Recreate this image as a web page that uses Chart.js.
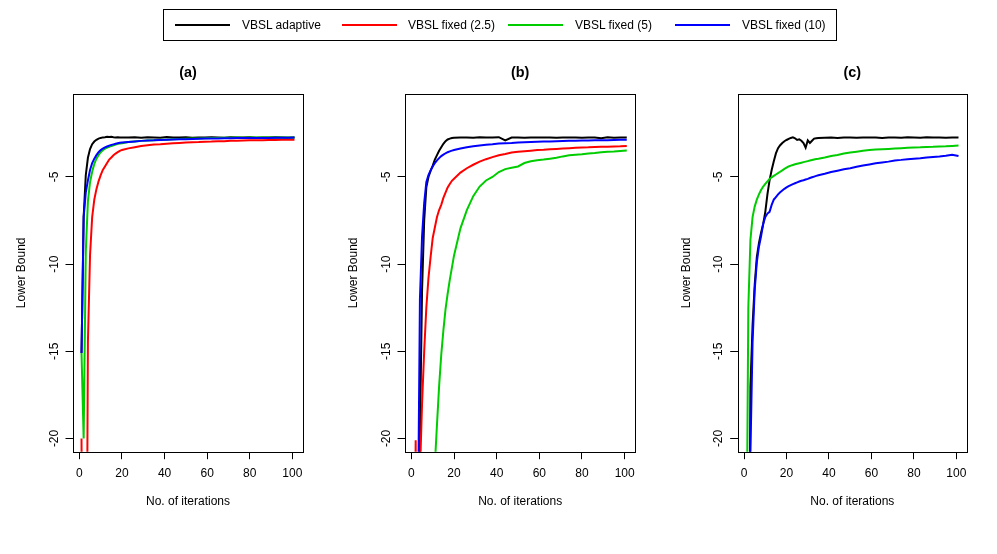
<!DOCTYPE html>
<html>
<head>
<meta charset="utf-8">
<script src="https://cdn.jsdelivr.net/npm/chart.js@4.4.0/dist/chart.umd.min.js"></script>
<style>
  html, body { margin:0; padding:0; background:#fff; }
  body { width:997px; height:554px; position:relative; overflow:hidden; font-family:"Liberation Sans", Arial, Helvetica, sans-serif; }
  canvas { position:absolute; top:0; }
  #legend { position:absolute; left:163px; top:9px; width:672px; height:30px; border:1px solid #000; z-index:5; background:transparent; }
  .sw { position:absolute; height:2px; }
  .lt { position:absolute; font-size:12px; line-height:14px; color:#000; white-space:nowrap; }
</style>
</head>
<body>
<div id="legend"></div>
<canvas id="ca" width="330" height="554" style="left:0px;width:330px;height:554px"></canvas>
<canvas id="cb" width="330" height="554" style="left:330px;width:330px;height:554px"></canvas>
<canvas id="cc" width="337" height="554" style="left:660px;width:337px;height:554px"></canvas>
<script>
// ---------------- data ----------------
const seriesNames = ['VBSL adaptive', 'VBSL fixed (2.5)', 'VBSL fixed (5)', 'VBSL fixed (10)'];
const seriesColors = ['#000000', '#FF0000', '#00CD00', '#0000FF'];
const panelTitles = ['(a)', '(b)', '(c)'];
const xTickValues = [0, 20, 40, 60, 80, 100];
const yTickValues = [-20, -15, -10, -5];
const xAxisTitle = 'No. of iterations';
const yAxisTitle = 'Lower Bound';

// iterations sampled (panels a and b)
const itersAB = [1,2,3,4,5,6,7,8,9,10,11,12,13,14,15,16,17,18,19,20,
  23,26,29,32,35,38,41,44,47,50,53,56,59,62,65,68,71,74,77,80,83,86,89,92,95,98,101];
// iterations sampled (panel c)
const itersC = [1,2,3,4,5,6,7,8,9,10,11,12,13,14,15,16,17,18,19,20,21,22,23,24,25,26,27,28,29,30,31,32,33,34,35,
  38,41,44,47,50,53,56,59,62,65,68,71,74,77,80,83,86,89,92,95,98,101];

// panel (a)
const aAdaptive = [-15.1,-7.3,-4.9,-3.9,-3.4,-3.12,-2.97,-2.87,-2.8,-2.76,-2.73,-2.72,-2.7,-2.71,-2.7,-2.72,-2.73,-2.72,-2.74,-2.73,
  -2.74,-2.72,-2.75,-2.72,-2.73,-2.75,-2.71,-2.74,-2.73,-2.72,-2.75,-2.73,-2.74,-2.72,-2.73,-2.75,-2.72,-2.74,-2.73,-2.72,-2.75,-2.73,-2.74,-2.72,-2.73,-2.75,-2.74];
const aFixed25 = [-20.0,-45,-40,-14.5,-9.5,-7.3,-6.3,-5.7,-5.25,-4.9,-4.6,-4.4,-4.2,-4.0,-3.88,-3.76,-3.66,-3.58,-3.5,-3.45,
  -3.36,-3.29,-3.22,-3.18,-3.14,-3.12,-3.09,-3.07,-3.05,-3.03,-3.01,-3.0,-2.98,-2.97,-2.95,-2.95,-2.93,-2.92,-2.91,-2.9,-2.9,-2.89,-2.88,-2.88,-2.87,-2.86,-2.86];
const aFixed5 = [-15.1,-20.0,-9.3,-6.4,-5.3,-4.7,-4.25,-3.95,-3.75,-3.58,-3.47,-3.38,-3.32,-3.27,-3.22,-3.18,-3.14,-3.1,-3.08,-3.06,
  -3.0,-2.96,-2.93,-2.91,-2.89,-2.87,-2.86,-2.84,-2.82,-2.81,-2.8,-2.79,-2.78,-2.77,-2.76,-2.75,-2.75,-2.74,-2.75,-2.74,-2.74,-2.73,-2.74,-2.73,-2.74,-2.73,-2.74];
const aFixed10 = [-15.1,-7.3,-5.9,-5.2,-4.6,-4.2,-3.95,-3.75,-3.58,-3.46,-3.37,-3.3,-3.25,-3.2,-3.16,-3.13,-3.1,-3.07,-3.04,-3.02,
  -2.99,-2.96,-2.93,-2.91,-2.9,-2.88,-2.86,-2.85,-2.84,-2.83,-2.82,-2.81,-2.8,-2.79,-2.79,-2.78,-2.78,-2.77,-2.77,-2.77,-2.76,-2.76,-2.76,-2.75,-2.75,-2.75,-2.74];

// panel (b)
const bAdaptive = [-45,-40,-30,-19.8,-11.5,-7.5,-5.6,-5.0,-4.65,-4.35,-4.0,-3.75,-3.5,-3.3,-3.1,-2.95,-2.85,-2.8,-2.77,-2.75,
  -2.74,-2.73,-2.75,-2.72,-2.74,-2.73,-2.72,-2.9,-2.74,-2.73,-2.75,-2.73,-2.74,-2.74,-2.73,-2.75,-2.74,-2.74,-2.73,-2.75,-2.74,-2.73,-2.78,-2.72,-2.75,-2.73,-2.74];
const bFixed25 = [-40,-20.1,-45,-22,-18,-15,-12.5,-10.8,-9.6,-8.5,-7.9,-7.3,-6.9,-6.6,-6.2,-5.9,-5.6,-5.4,-5.22,-5.1,
  -4.75,-4.5,-4.3,-4.12,-3.98,-3.86,-3.75,-3.68,-3.6,-3.56,-3.52,-3.49,-3.46,-3.44,-3.41,-3.39,-3.37,-3.35,-3.33,-3.31,-3.3,-3.28,-3.27,-3.26,-3.25,-3.24,-3.22];
const bFixed5 = [-60,-50,-45,-40,-36,-33,-30,-28,-26,-24,-21.5,-19.2,-17,-15.2,-13.8,-12.6,-11.7,-10.9,-10.2,-9.5,
  -7.95,-6.9,-6.1,-5.55,-5.2,-5.0,-4.72,-4.55,-4.47,-4.4,-4.2,-4.1,-4.04,-4.0,-3.95,-3.9,-3.82,-3.76,-3.73,-3.7,-3.66,-3.63,-3.58,-3.55,-3.54,-3.51,-3.48];
const bFixed10 = [-45,-40,-26,-12,-8.4,-6.5,-5.3,-4.9,-4.62,-4.4,-4.2,-4.05,-3.92,-3.8,-3.72,-3.64,-3.58,-3.53,-3.49,-3.45,
  -3.37,-3.3,-3.24,-3.19,-3.15,-3.12,-3.08,-3.06,-3.05,-3.03,-3.01,-2.99,-2.98,-2.97,-2.96,-2.95,-2.94,-2.93,-2.92,-2.91,-2.91,-2.9,-2.9,-2.89,-2.88,-2.87,-2.86];

// panel (c)
const cAdaptive = [-45,-35,-17,-13.5,-11.2,-9.6,-8.8,-8.2,-7.7,-7.0,-6.0,-5.2,-4.6,-4.1,-3.65,-3.35,-3.18,-3.05,-2.95,-2.88,
  -2.82,-2.76,-2.73,-2.78,-2.88,-2.84,-2.92,-3.05,-3.32,-2.9,-3.05,-2.92,-2.8,-2.78,-2.76,
  -2.75,-2.74,-2.77,-2.74,-2.73,-2.75,-2.74,-2.73,-2.74,-2.76,-2.74,-2.73,-2.75,-2.72,-2.73,-2.75,-2.72,-2.74,-2.73,-2.75,-2.73,-2.74];
const cFixed5 = [-30,-12.5,-8.6,-7.3,-6.7,-6.3,-6.0,-5.75,-5.55,-5.4,-5.25,-5.12,-5.02,-4.94,-4.86,-4.78,-4.7,-4.62,-4.54,-4.47,
  -4.4,-4.35,-4.31,-4.27,-4.24,-4.21,-4.18,-4.15,-4.12,-4.09,-4.06,-4.03,-4.0,-3.97,-3.95,
  -3.88,-3.8,-3.74,-3.66,-3.6,-3.55,-3.5,-3.46,-3.43,-3.41,-3.39,-3.37,-3.35,-3.33,-3.31,-3.3,-3.28,-3.27,-3.25,-3.24,-3.22,-3.2];
const cFixed10 = [-45,-38,-20.8,-14.5,-11.5,-9.9,-9.0,-8.4,-7.7,-7.3,-7.1,-7.0,-6.6,-6.3,-6.15,-6.0,-5.88,-5.78,-5.68,-5.6,
  -5.53,-5.47,-5.41,-5.36,-5.31,-5.26,-5.22,-5.19,-5.15,-5.11,-5.06,-5.02,-4.98,-4.94,-4.9,
  -4.82,-4.72,-4.64,-4.56,-4.5,-4.42,-4.34,-4.28,-4.22,-4.17,-4.12,-4.05,-4.02,-3.98,-3.95,-3.92,-3.88,-3.85,-3.82,-3.78,-3.73,-3.8];

// ---------------- legend ----------------
const legendSwatchX = [11, 178, 344, 511];   // relative to legend box
const legendTextX = [78, 244, 411, 578];
(function buildLegend(){
  const lg = document.getElementById('legend');
  seriesNames.forEach((name, i) => {
    const sw = document.createElement('div');
    sw.className = 'sw';
    sw.style.left = legendSwatchX[i] + 'px';
    sw.style.width = '55px';
    sw.style.top = '14px';
    sw.style.background = seriesColors[i];
    lg.appendChild(sw);
    const t = document.createElement('div');
    t.className = 'lt';
    t.style.left = legendTextX[i] + 'px';
    t.style.top = '8px';
    t.textContent = name;
    lg.appendChild(t);
  });
})();

// ---------------- charts ----------------
const FONT = '"Liberation Sans", Arial, Helvetica, sans-serif';
const boxPlugin = {
  id: 'boxPlugin',
  afterDraw(chart) {
    const {ctx, chartArea: a} = chart;
    ctx.save();
    ctx.strokeStyle = '#000';
    ctx.lineWidth = 1;
    ctx.strokeRect(Math.round(a.left) + 0.5, Math.round(a.top) + 0.5,
                   Math.round(a.right) - Math.round(a.left), Math.round(a.bottom) - Math.round(a.top));
    ctx.restore();
  }
};

function makePanel(id, canvasW, yAxisW, chartRight, title, iters, seriesList) {
  const datasets = [];
  seriesList.forEach((vals, i) => {
    if (!vals) return;
    datasets.push({
      label: seriesNames[i],
      data: iters.map((x, k) => ({x: x, y: vals[k]})),
      borderColor: seriesColors[i],
      backgroundColor: seriesColors[i],
      borderWidth: 2,
      pointRadius: 0,
      tension: 0,
      fill: false,
      clip: 0,
      order: 4 - i
    });
  });
  const xH = 57.5;
  new Chart(document.getElementById(id), {
    type: 'line',
    data: { datasets: datasets },
    plugins: [boxPlugin],
    options: {
      responsive: false,
      animation: false,
      devicePixelRatio: 1,
      events: [],
      layout: { padding: { left: 0, right: canvasW - chartRight, top: 0, bottom: 554 - 451.7 - xH } },
      plugins: {
        legend: { display: false },
        tooltip: { enabled: false },
        title: { display: true, text: title, color: '#000', fullSize: false,
                 font: { family: FONT, size: 14.4, weight: 'bold', lineHeight: 1.2 },
                 padding: { top: 64.6, bottom: 12.1 } }
      },
      scales: {
        x: {
          type: 'linear', min: -3, max: 105,
          afterBuildTicks: s => { s.ticks = xTickValues.map(v => ({value: v})); },
          afterFit: s => { s.height = xH; },
          grid: { drawOnChartArea: false, drawTicks: true, tickLength: 7.5, color: '#000', lineWidth: 1 },
          border: { display: false },
          ticks: { color: '#000', padding: 6.9, minRotation: 0, maxRotation: 0, autoSkip: false,
                   font: { family: FONT, size: 12, lineHeight: 1.2 } },
          title: { display: true, text: xAxisTitle, color: '#000', padding: { top: 0, bottom: 0 },
                   font: { family: FONT, size: 12, lineHeight: 1.2 } }
        },
        y: {
          type: 'linear', min: -20.76, max: -0.24,
          afterBuildTicks: s => { s.ticks = yTickValues.map(v => ({value: v})); },
          afterFit: s => { s.width = yAxisW; },
          grid: { drawOnChartArea: false, drawTicks: true, tickLength: 7.5, color: '#000', lineWidth: 1 },
          border: { display: false },
          ticks: { color: '#000', padding: 2.5, minRotation: 90, maxRotation: 90, crossAlign: 'center', autoSkip: false,
                   font: { family: FONT, size: 12, lineHeight: 1.2 } },
          title: { display: true, text: yAxisTitle, color: '#000', padding: { top: yAxisW - 58.2, bottom: 0 },
                   font: { family: FONT, size: 12, lineHeight: 1.2 } }
        }
      }
    }
  });
}

makePanel('ca', 330, 73, 303, panelTitles[0], itersAB, [aAdaptive, aFixed25, aFixed5, aFixed10]);
makePanel('cb', 330, 75, 305.3, panelTitles[1], itersAB, [bAdaptive, bFixed25, bFixed5, bFixed10]);
makePanel('cc', 337, 77.7, 307, panelTitles[2], itersC, [cAdaptive, null, cFixed5, cFixed10]);
</script>
</body>
</html>
